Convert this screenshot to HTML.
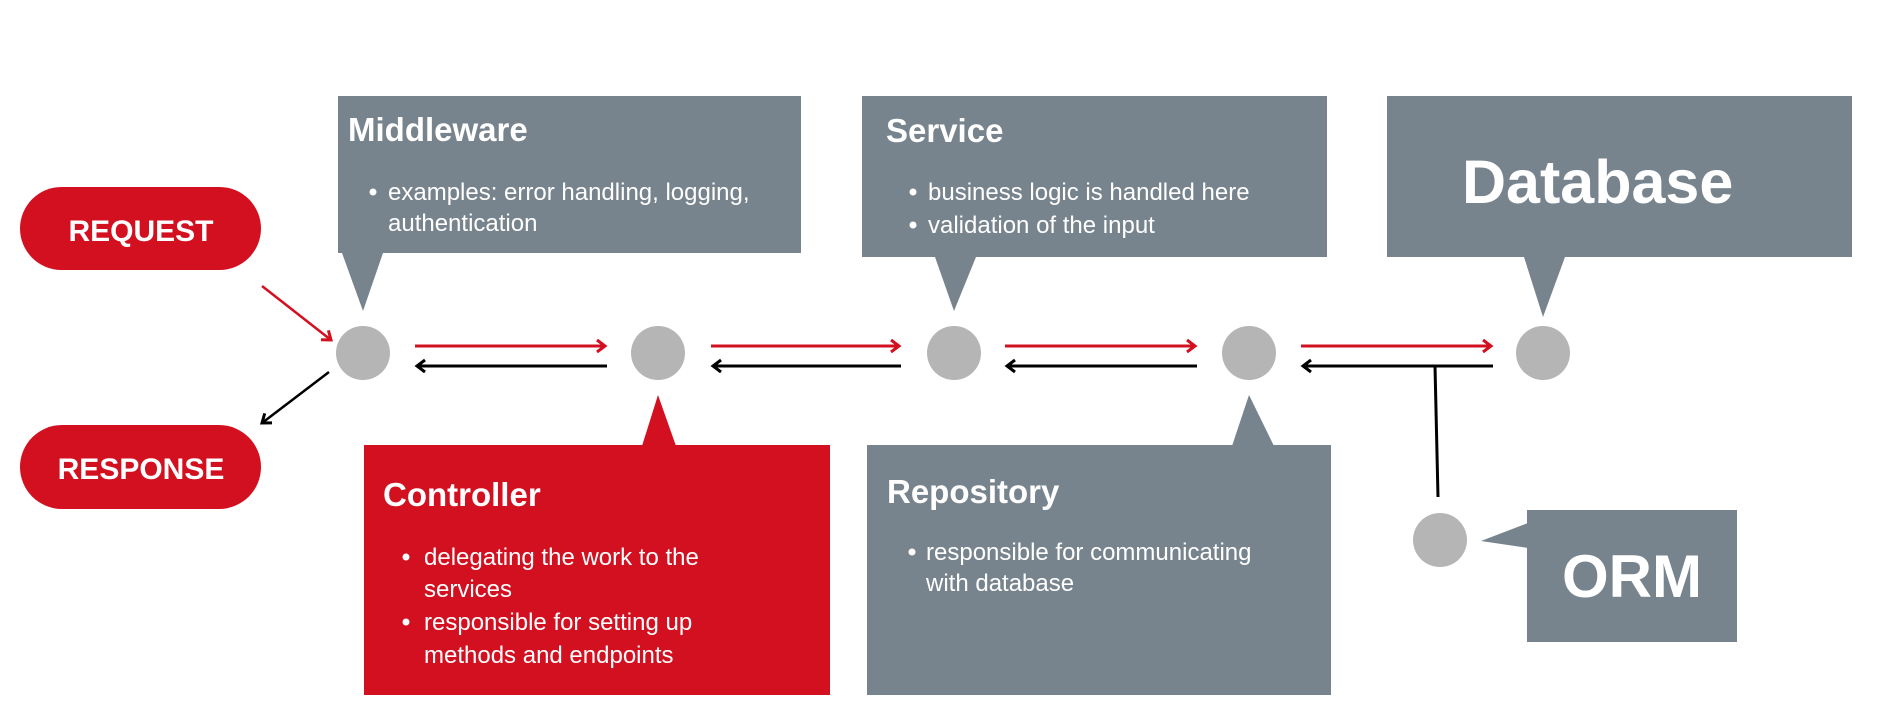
<!DOCTYPE html>
<html><head><meta charset="utf-8"><style>
html,body{margin:0;padding:0;background:#fff;}
svg{display:block;}
text{font-family:"Liberation Sans",sans-serif;fill:#fff;}
.t{font-weight:bold;font-size:33px;}
.b{font-size:24px;}
</style></head><body>
<svg width="1877" height="723" viewBox="0 0 1877 723" xmlns="http://www.w3.org/2000/svg">
<defs>
<marker id="ar" markerWidth="14" markerHeight="16" refX="11" refY="8" orient="auto" markerUnits="userSpaceOnUse"><path d="M3,2 L11,8 L3,14" fill="none" stroke="#d31020" stroke-width="3"/></marker>
<marker id="ak" markerWidth="14" markerHeight="16" refX="11" refY="8" orient="auto" markerUnits="userSpaceOnUse"><path d="M3,2 L11,8 L3,14" fill="none" stroke="#000" stroke-width="3"/></marker>
</defs>
<rect x="20" y="187" width="241" height="83" rx="41.5" fill="#d31020"/>
<text x="141" y="241" text-anchor="middle" style="font-weight:bold;font-size:30px">REQUEST</text>
<rect x="20" y="425" width="241" height="84" rx="42" fill="#d31020"/>
<text x="141" y="479" text-anchor="middle" style="font-weight:bold;font-size:30px">RESPONSE</text>
<line x1="262" y1="286" x2="331" y2="340" stroke="#d31020" stroke-width="2.5" marker-end="url(#ar)"/>
<line x1="329" y1="372" x2="262" y2="423" stroke="#000" stroke-width="2.5" marker-end="url(#ak)"/>
<rect x="338" y="96" width="463" height="157" fill="#78848d"/>
<polygon points="342,253 383,253 363,311" fill="#78848d"/>
<text x="348" y="141" class="t">Middleware</text>
<circle cx="373" cy="192" r="3.5" fill="#fff"/>
<text x="388" y="200" class="b">examples: error handling, logging,</text>
<text x="388" y="231" class="b">authentication</text>
<rect x="862" y="96" width="465" height="161" fill="#78848d"/>
<polygon points="935,257 976,257 954,311" fill="#78848d"/>
<text x="886" y="142" class="t">Service</text>
<circle cx="913" cy="192" r="3.5" fill="#fff"/>
<text x="928" y="200" class="b">business logic is handled here</text>
<circle cx="913" cy="225" r="3.5" fill="#fff"/>
<text x="928" y="233" class="b">validation of the input</text>
<rect x="1387" y="96" width="465" height="161" fill="#78848d"/>
<polygon points="1524,257 1565,257 1543,317" fill="#78848d"/>
<text x="1462" y="203" style="font-weight:bold;font-size:61px">Database</text>
<rect x="364" y="445" width="466" height="250" fill="#d31020"/>
<polygon points="642,446 676,446 658,395" fill="#d31020"/>
<text x="383" y="506" class="t">Controller</text>
<circle cx="406" cy="557" r="3.5" fill="#fff"/>
<text x="424" y="565" class="b">delegating the work to the</text>
<text x="424" y="597" class="b">services</text>
<circle cx="406" cy="622" r="3.5" fill="#fff"/>
<text x="424" y="630" class="b">responsible for setting up</text>
<text x="424" y="663" class="b">methods and endpoints</text>
<rect x="867" y="445" width="464" height="250" fill="#78848d"/>
<polygon points="1232,446 1274,446 1249,395" fill="#78848d"/>
<text x="887" y="503" class="t">Repository</text>
<circle cx="912" cy="552" r="3.5" fill="#fff"/>
<text x="926" y="560" class="b">responsible for communicating</text>
<text x="926" y="591" class="b">with database</text>
<rect x="1527" y="510" width="210" height="132" fill="#78848d"/>
<polygon points="1528,523 1528,548 1481,541" fill="#78848d"/>
<text x="1632" y="597" text-anchor="middle" style="font-weight:bold;font-size:60px">ORM</text>
<g fill="#b5b5b5">
<ellipse cx="363" cy="353" rx="27" ry="27"/>
<ellipse cx="658" cy="353" rx="27" ry="27"/>
<ellipse cx="954" cy="353" rx="27" ry="27"/>
<ellipse cx="1249" cy="353" rx="27" ry="27"/>
<ellipse cx="1543" cy="353" rx="27" ry="27"/>
<ellipse cx="1440" cy="540" rx="27" ry="27"/>
</g>
<g stroke-width="3">
<line x1="415" y1="346" x2="605" y2="346" stroke="#d31020" marker-end="url(#ar)"/>
<line x1="607" y1="366" x2="417" y2="366" stroke="#000" marker-end="url(#ak)"/>
<line x1="711" y1="346" x2="899" y2="346" stroke="#d31020" marker-end="url(#ar)"/>
<line x1="901" y1="366" x2="713" y2="366" stroke="#000" marker-end="url(#ak)"/>
<line x1="1005" y1="346" x2="1195" y2="346" stroke="#d31020" marker-end="url(#ar)"/>
<line x1="1197" y1="366" x2="1007" y2="366" stroke="#000" marker-end="url(#ak)"/>
<line x1="1301" y1="346" x2="1491" y2="346" stroke="#d31020" marker-end="url(#ar)"/>
<line x1="1493" y1="366" x2="1303" y2="366" stroke="#000" marker-end="url(#ak)"/>
<line x1="1435" y1="366" x2="1438" y2="497" stroke="#000"/>
</g>
</svg>
</body></html>
